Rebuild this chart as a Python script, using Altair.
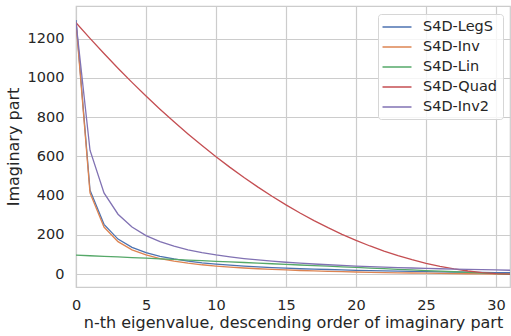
import altair as alt
import pandas as pd

# index of eigenvalue (descending order of imaginary part)
idx = list(range(32))

series_names = ["S4D-LegS", "S4D-Inv", "S4D-Lin", "S4D-Quad", "S4D-Inv2"]
series_colors = ["#4c72b0", "#dd8452", "#55a868", "#c44e52", "#8172b3"]

legs = [1295, 428, 254, 179, 137, 110, 91, 78, 67, 58, 52, 46, 41, 37, 34, 31,
        28, 26, 24, 22, 20, 18.5, 17, 16, 14.5, 13.5, 12.5, 11.5, 10.5, 9.5, 8.5, 7.5]
inv = [1283.4, 414.2, 240.4, 165.9, 124.5, 98.2, 79.9, 66.5, 56.3, 48.2, 41.7, 36.3,
       31.8, 27.9, 24.6, 21.7, 19.1, 16.9, 14.9, 13.1, 11.4, 9.9, 8.6, 7.4, 6.2, 5.2,
       4.2, 3.3, 2.5, 1.7, 1.0, 0.3]
lin = [97.4, 94.2, 91.1, 88.0, 84.8, 81.7, 78.5, 75.4, 72.3, 69.1, 66.0, 62.8, 59.7,
       56.5, 53.4, 50.3, 47.1, 44.0, 40.8, 37.7, 34.6, 31.4, 28.3, 25.1, 22.0, 18.8,
       15.7, 12.6, 9.4, 6.3, 3.1, 0.0]
quad = [1281.0, 1201.1, 1123.9, 1049.2, 977.1, 907.5, 840.5, 776.1, 714.3, 655.0,
        598.3, 544.2, 492.6, 443.6, 397.1, 353.3, 311.9, 273.2, 237.0, 203.4, 172.4,
        143.9, 118.0, 94.7, 73.9, 55.7, 40.1, 27.0, 16.5, 8.6, 3.2, 0.4]
inv2 = [1283.4, 631.5, 414.2, 305.6, 240.4, 196.9, 165.9, 142.6, 124.5, 110.0, 98.2,
        88.3, 79.9, 72.8, 66.5, 61.1, 56.3, 52.1, 48.2, 44.8, 41.7, 38.9, 36.3, 34.0,
        31.8, 29.8, 27.9, 26.2, 24.6, 23.1, 21.7, 20.4]

x_ticks = [0, 5, 10, 15, 20, 25, 30]
y_ticks = [0, 200, 400, 600, 800, 1000, 1200]

rows = []
for order, (name, vals) in enumerate(zip(series_names, [legs, inv, lin, quad, inv2])):
    for i, v in zip(idx, vals):
        rows.append({"n": i, "value": v, "series": name, "ord": order})
df = pd.DataFrame(rows)

text_color = "#262626"
grid_color = "#cccccc"

chart = alt.Chart(df).mark_line(strokeWidth=1.3, clip=True).encode(
    x=alt.X(
        "n:Q",
        scale=alt.Scale(domain=[0, 31], nice=False, zero=False),
        axis=alt.Axis(
            values=x_ticks,
            format="d",
            labelFlush=False,
            title="n-th eigenvalue, descending order of imaginary part",
            titleY=40,
            titleBaseline="alphabetic",
            labelPadding=11,
        ),
    ),
    y=alt.Y(
        "value:Q",
        scale=alt.Scale(domain=[-65, 1366], nice=False, zero=False),
        axis=alt.Axis(
            values=y_ticks,
            format="d",
            labelFlush=False,
            title="Imaginary part",
            titleX=-58,
            titleBaseline="alphabetic",
            labelPadding=12,
        ),
    ),
    color=alt.Color(
        "series:N",
        scale=alt.Scale(domain=series_names, range=series_colors),
        legend=alt.Legend(
            title=None,
            orient="none",
            legendX=302,
            legendY=8,
            symbolType="M-2,0H2",
            symbolSize=210,
            symbolStrokeWidth=1.5,
            symbolOffset=6,
            labelOffset=18,
            labelFontSize=14.5,
            labelColor=text_color,
            labelFont="DejaVu Sans",
            rowPadding=5,
            padding=5,
            strokeColor="#d6d6d6",
            fillColor="rgba(255,255,255,0.8)",
            cornerRadius=3,
        ),
    ),
    order=alt.Order("ord:Q"),
).properties(
    width=434,
    height=281,
    background="white",
    padding={"left": 76, "top": 6, "right": 1, "bottom": 49},
    autosize=alt.AutoSizeParams(type="none"),
).configure_view(
    stroke=grid_color, strokeWidth=1.2
).configure_axis(
    domain=False,
    ticks=False,
    grid=True,
    gridColor=grid_color,
    gridWidth=1.2,
    labelFont="DejaVu Sans",
    labelFontSize=14.5,
    labelColor=text_color,
    titleFont="DejaVu Sans",
    titleFontSize=16,
    titleFontWeight="normal",
    titleColor=text_color,
)

chart.save("out.html", embed_options={"renderer": "svg", "actions": False})
